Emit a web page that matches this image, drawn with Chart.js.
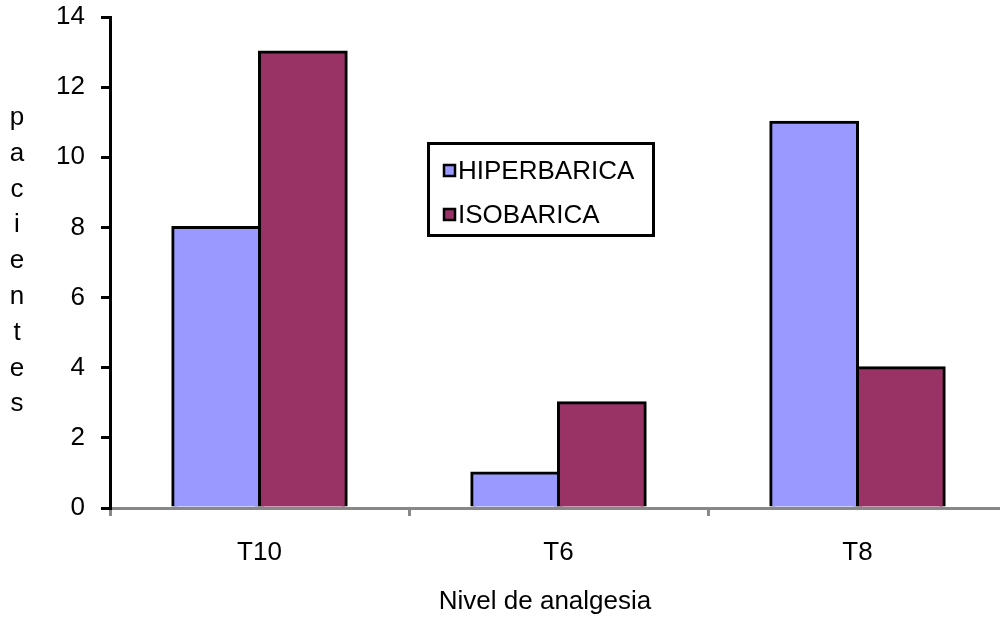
<!DOCTYPE html>
<html>
<head>
<meta charset="utf-8">
<style>
  html, body { margin: 0; padding: 0; background: #fff; overflow: hidden; width: 1000px; height: 618px; }
  #c { display: block; }
</style>
<script src="https://cdn.jsdelivr.net/npm/chart.js@4/dist/chart.umd.min.js"></script>
</head>
<body>
<canvas id="c" width="1007" height="618"></canvas>
<script>
// Analgesia level reached, by anaesthetic solution
const categories = ['T10', 'T6', 'T8'];
const hiperbarica = [8, 1, 11];
const isobarica = [13, 3, 4];
const seriesNames = ['HIPERBARICA', 'ISOBARICA'];
const seriesColors = ['#9999FF', '#993366'];
const yTitle = 'pacientes';
const xTitle = 'Nivel de analgesia';

const FONT = "'Liberation Sans', Arial, sans-serif";
const SIZE = 26;

// Stacked-letter y title, x title and the boxed legend
const decorations = {
  id: 'decorations',
  afterDraw(chart) {
    const ctx = chart.ctx;
    ctx.save();
    ctx.fillStyle = '#000';
    ctx.font = SIZE + 'px ' + FONT;
    ctx.textAlign = 'center';
    ctx.textBaseline = 'alphabetic';
    yTitle.split('').forEach((ch, i) => {
      ctx.fillText(ch, 17, 125 + i * 35.8);
    });

    ctx.textBaseline = 'middle';
    ctx.fillText(xTitle, 545, 602);

    // legend box
    ctx.lineWidth = 3;
    ctx.strokeStyle = '#000';
    ctx.fillStyle = '#fff';
    ctx.fillRect(428.5, 143.5, 225, 92);
    ctx.strokeRect(428.5, 143.5, 225, 92);
    ctx.textAlign = 'left';
    chart.data.datasets.forEach((ds, i) => {
      const cy = 171 + i * 44;
      ctx.fillStyle = ds.backgroundColor;
      ctx.lineWidth = 2.5;
      ctx.fillRect(444, cy - 6, 11, 11);
      ctx.strokeRect(444, cy - 6, 11, 11);
      ctx.fillStyle = '#000';
      ctx.fillText(ds.label, 458, cy + 1);
    });
    ctx.restore();
  }
};

new Chart(document.getElementById('c'), {
  type: 'bar',
  data: {
    labels: categories,
    datasets: [
      { label: seriesNames[0], data: hiperbarica, backgroundColor: seriesColors[0],
        borderColor: '#000', borderWidth: 3, inflateAmount: 1.5 },
      { label: seriesNames[1], data: isobarica, backgroundColor: seriesColors[1],
        borderColor: '#000', borderWidth: 3, inflateAmount: 1.5 }
    ]
  },
  options: {
    responsive: false,
    animation: false,
    devicePixelRatio: 1,
    layout: { padding: { top: 17, right: 0, left: 0, bottom: 0 } },
    datasets: { bar: { categoryPercentage: 0.58, barPercentage: 1.0 } },
    plugins: {
      legend: { display: false },
      tooltip: { enabled: false }
    },
    scales: {
      x: {
        grid: { display: true, drawOnChartArea: false, color: '#888', lineWidth: 3, tickLength: 8, offset: true },
        border: { display: true, color: '#888', width: 3 },
        ticks: { color: '#000', font: { family: FONT, size: SIZE }, padding: 21 },
        afterFit(scale) { scale.height = 110; scale.paddingLeft = 0; scale.paddingRight = 0; }
      },
      y: {
        min: 0, max: 14,
        ticks: { stepSize: 2, color: '#000', font: { family: FONT, size: SIZE }, padding: 16 },
        grid: { display: true, drawOnChartArea: false, color: '#000', lineWidth: 3, tickLength: 9 },
        border: { display: true, color: '#000', width: 3 },
        afterFit(scale) { scale.width = 110; scale.paddingTop = 0; scale.paddingBottom = 0; }
      }
    }
  },
  plugins: [decorations]
});
</script>
</body>
</html>
